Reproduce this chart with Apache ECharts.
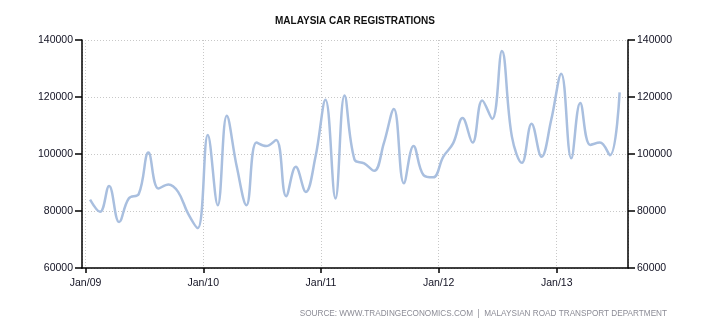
<!DOCTYPE html>
<html>
<head>
<meta charset="utf-8">
<script src="https://cdn.jsdelivr.net/npm/echarts@6/dist/echarts.min.js"></script>
<style>
  html, body { margin: 0; padding: 0; background: #fff; }
  #chart { width: 710px; height: 325px; }
</style>
</head>
<body>
<div id="chart"></div>
<script>
// Monthly car registrations in Malaysia, Jan 2009 – Jul 2013
const startYear = 2009;
const startMonth = 0; // January
const registrations = [
  84000, 79700, 88800, 76100, 84400, 86000, 100500, 87900, 89300, 86700, 79100, 74000,
  106700, 82000, 113400, 95500, 82000, 104000, 102800, 104900, 85200, 95500, 86700, 99000,
  119000, 84400, 120500, 98000, 96700, 94100, 103800, 115800, 89700, 102800, 92600, 91800,
  99000, 103800, 112600, 104000, 118800, 112300, 136100, 106100, 96900, 110600, 99000, 112000,
  128200, 98500, 117900, 103200, 104000, 99600, 121600
];
const yTicks = [60000, 80000, 100000, 120000, 140000];
const titleText = 'MALAYSIA CAR REGISTRATIONS';
const sourceText = 'SOURCE: WWW.TRADINGECONOMICS.COM  |  MALAYSIAN ROAD TRANSPORT DEPARTMENT';
const monthNames = ['Jan','Feb','Mar','Apr','May','Jun','Jul','Aug','Sep','Oct','Nov','Dec'];

// each observation sits in the middle of its month
const seriesData = registrations.map((v, i) => {
  const d = Date.UTC(startYear, startMonth + i, 15);
  return [d, v];
});

const labelFont = { fontFamily: 'Liberation Sans', fontSize: 10.5, color: '#111122' };
const yMin = yTicks[0], yMax = yTicks[yTicks.length - 1], yStep = yTicks[1] - yTicks[0];

function yAxisDef(pos) {
  return {
    type: 'value', position: pos, min: yMin, max: yMax, interval: yStep,
    axisLine: { show: true, lineStyle: { color: '#000', width: 1.5 } },
    axisTick: { show: true, length: 7, lineStyle: { color: '#000', width: 1.5 } },
    axisLabel: Object.assign({ margin: 9, formatter: v => String(v) }, labelFont),
    splitLine: { show: pos === 'left', lineStyle: { color: '#c8c8c8', type: [1, 2], width: 1 } }
  };
}

const chart = echarts.init(document.getElementById('chart'), null, { renderer: 'canvas' });
chart.setOption({
  animation: false,
  backgroundColor: '#fff',
  title: [
    {
      text: titleText, left: 'center', top: 11,
      textStyle: { fontFamily: 'Liberation Sans', fontSize: 10, fontWeight: 'bold', color: '#111' }
    },
    {
      text: sourceText, right: 38, top: 305,
      textStyle: { fontFamily: 'Liberation Sans', fontSize: 8.2, fontWeight: 'normal', color: '#8c8c96' }
    }
  ],
  grid: { left: 82, right: 82, top: 40, bottom: 57, containLabel: false },
  xAxis: {
    type: 'time',
    min: Date.UTC(2008, 11, 21),
    max: Date.UTC(2013, 7, 10),
    minInterval: 365 * 86400000,
    maxInterval: 366 * 86400000,
    axisLine: { show: true, lineStyle: { color: '#000', width: 1.5 } },
    axisTick: { show: true, length: 5, lineStyle: { color: '#000', width: 1.5 } },
    axisLabel: Object.assign({
      margin: 10,
      showMinLabel: false, showMaxLabel: false,
      formatter: function (val) {
        const d = new Date(val);
        return monthNames[d.getUTCMonth()] + '/' + String(d.getUTCFullYear()).slice(2);
      }
    }, labelFont),
    splitLine: { show: true, lineStyle: { color: '#c8c8c8', type: [1, 2], width: 1 } }
  },
  yAxis: [yAxisDef('left'), yAxisDef('right')],
  series: [{
    type: 'line',
    data: seriesData,
    smooth: 0.4,
    showSymbol: false,
    lineStyle: { color: '#a9bfdf', width: 2.5 },
    itemStyle: { color: '#a9bfdf' }
  }]
});
</script>
</body>
</html>
